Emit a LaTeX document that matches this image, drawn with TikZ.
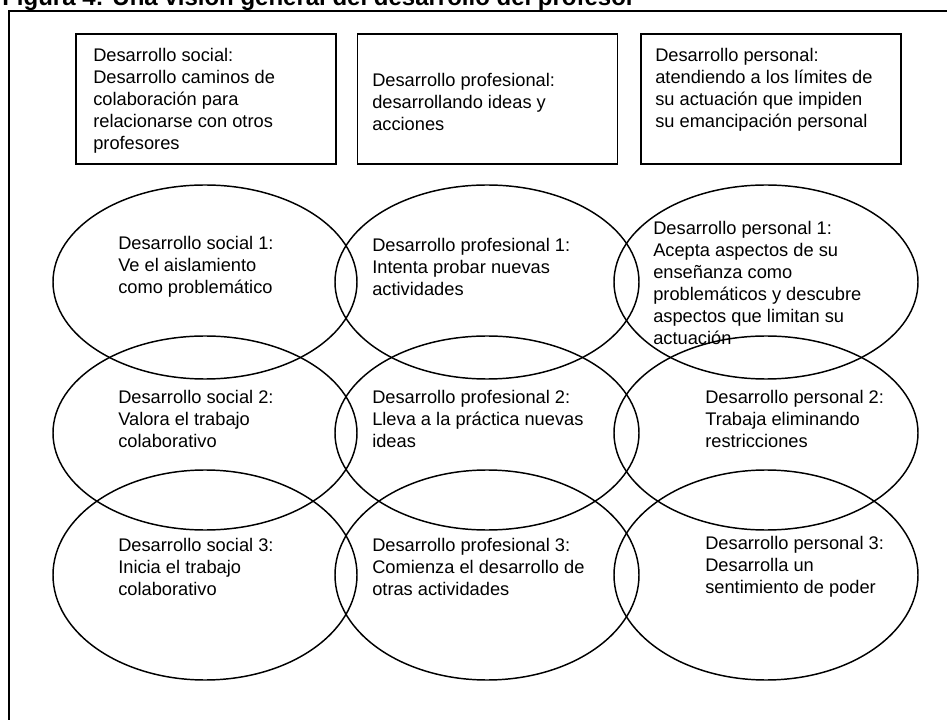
\documentclass[tikz,border=0pt]{standalone}
\usepackage{fontspec}
\setmainfont{Liberation Sans}
\usetikzlibrary{positioning, shapes.geometric}

\begin{document}
\begin{tikzpicture}[x=0.75pt, y=-0.75pt, node distance=15pt,
        topbox/.style={rectangle, draw, line width=1.2pt, minimum width=195pt, minimum height=97.5pt, inner sep=0pt},
        oval/.style={ellipse, draw, line width=1.1pt, minimum width=228pt, minimum height=145.5pt, inner sep=0pt},
        tallov/.style={oval, minimum height=157.5pt},
        txt/.style={anchor=west, align=left, inner sep=0pt, font=\fontsize{13.7pt}{16.4pt}\selectfont}]

        \clip (0,0) rectangle (947,720);

        % title and frame, both cut by the page edge
        \node [anchor=base west, inner sep=0pt, font=\fontsize{18pt}{20pt}\selectfont\bfseries] (title) at (2,6) {Figura 4: Una visión general del desarrollo del profesor};
        \draw [line width=1.3pt] (9,760) -- (9,11) -- (980,11);

        % the three headings
        \node [topbox, anchor=north west] (hsoc) at (75,33) {};
        \node [topbox, right=of hsoc] (hprof) {};
        \node [topbox, right=16.5pt of hprof] (hpers) {};

        \node [txt] (hsoct) at (93,101) {Desarrollo social:\\Desarrollo caminos de\\colaboración para\\relacionarse con otros\\profesores};
        \node [txt] (hproft) at (372,102) {Desarrollo profesional:\\desarrollando ideas y\\acciones};
        \node [txt] (hperst) at (655,90) {Desarrollo personal:\\atendiendo a los límites de\\su actuación que impiden\\su emancipación personal};

        % row 1
        \node [oval] (soc1) at (205,282) {};
        \node [oval] (prof1) at (487,282) {};
        \node [oval] (pers1) at (766,282) {};
        % row 2
        \node [oval] (soc2) at (205,433) {};
        \node [oval] (prof2) at (487,433) {};
        \node [oval] (pers2) at (766,433) {};
        % row 3
        \node [tallov] (soc3) at (205,575) {};
        \node [tallov] (prof3) at (487,575) {};
        \node [tallov] (pers3) at (766,575) {};

        \node [txt] (soc1t) at (118,267) {Desarrollo social 1:\\Ve el aislamiento\\como problemático};
        \node [txt] (prof1t) at (372,267) {Desarrollo profesional 1:\\Intenta probar nuevas\\actividades};
        \node [txt] (pers1t) at (653,283) {Desarrollo personal 1:\\Acepta aspectos de su\\enseñanza como\\problemáticos y descubre\\aspectos que limitan su\\actuación};

        \node [txt] (soc2t) at (118,419) {Desarrollo social 2:\\Valora el trabajo\\colaborativo};
        \node [txt] (prof2t) at (372,419) {Desarrollo profesional 2:\\Lleva a la práctica nuevas\\ideas};
        \node [txt] (pers2t) at (705,419) {Desarrollo personal 2:\\Trabaja eliminando\\restricciones};

        \node [txt] (soc3t) at (118,567) {Desarrollo social 3:\\Inicia el trabajo\\colaborativo};
        \node [txt] (prof3t) at (372,567) {Desarrollo profesional 3:\\Comienza el desarrollo de\\otras actividades};
        \node [txt] (pers3t) at (705,567) {Desarrollo personal 3:\\Desarrolla un\\sentimiento de poder};
\end{tikzpicture}
\end{document}
